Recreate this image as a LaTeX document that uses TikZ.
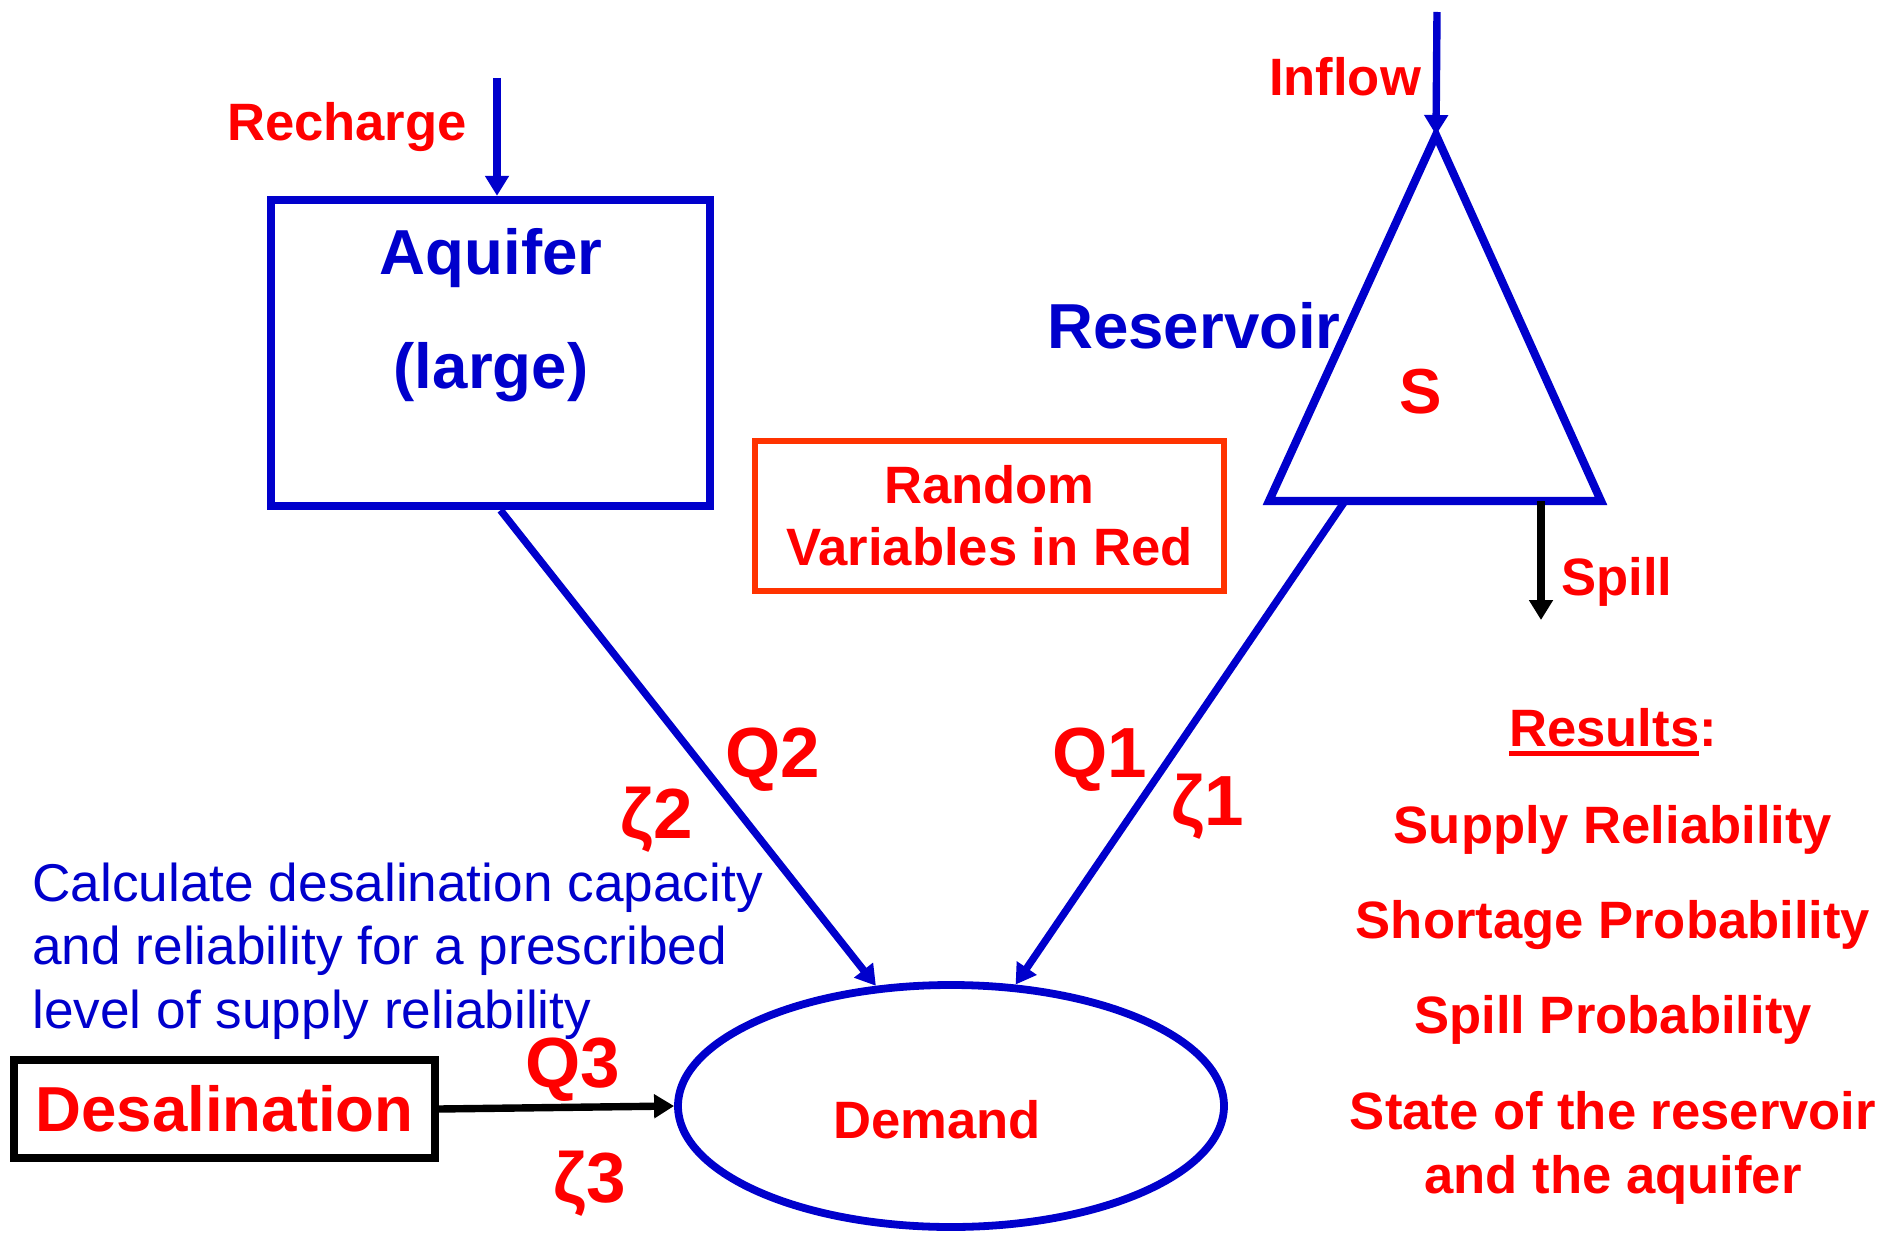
\documentclass[tikz,border=0pt]{standalone}
\usepackage{fontspec}
\setmainfont{Liberation Sans}
\usetikzlibrary{arrows.meta,shapes.geometric,calc}
\definecolor{dblue}{RGB}{0,0,204}
\definecolor{rred}{RGB}{255,0,0}
\definecolor{ored}{RGB}{255,51,0}
\newcommand\fsz[1]{\fontsize{#1}{#1}\selectfont}
\newcommand\ulbox[1]{\setbox0=\hbox{#1}\rlap{\rule[-5pt]{\wd0}{2.3pt}}\box0}
\begin{document}
\begin{tikzpicture}[x=0.5pt,y=-0.5pt,
  lbl/.style={inner sep=0pt, anchor=base, font=\bfseries\fsz{26.3pt}, text=rred},
  big/.style={inner sep=0pt, anchor=base, font=\bfseries\fsz{31.8pt}},
  qlbl/.style={inner sep=0pt, anchor=base, font=\bfseries\fsz{35.5pt}, text=rred},
  note/.style={inner sep=0pt, anchor=base west, font=\fsz{26.6pt}, text=dblue},
  tip/.style={-{Triangle[length=10pt,width=11.5pt]}},
  flow/.style={draw=dblue, line width=3.7pt, tip},
  blackflow/.style={draw=black, line width=3.7pt, tip}
]
\useasboundingbox (0,0) rectangle (1888,1240);

% Aquifer
\node[draw=dblue, line width=4.2pt, minimum width=219.5pt, minimum height=153pt, inner sep=0pt] (aquifer) at (490.5,353) {};
\node[big, text=dblue] (aqt1) at (491,274.5) {Aquifer};
\node[big, text=dblue] (aqt2) at (491,389) {(large)};
\coordinate (rechTop) at (497,78);
\node[lbl] (recharge) at (347,141) {Recharge};
\draw[flow] (rechTop) -- (rechTop |- aquifer.north);

% Reservoir
\coordinate (rtop) at (1436,135);
\coordinate (rbl) at (1269,501);
\coordinate (rbr) at (1601,501);
\draw[dblue, line width=4.1pt] (rtop) -- (rbr) -- (rbl) -- cycle;
\node[big, text=dblue] (restxt) at (1194,349) {Reservoir};
\node[big, text=rred] (stxt) at (1421,414) {S};
\coordinate (inflowTop) at (1437,12);
\node[lbl] (inflow) at (1345,96) {Inflow};
\draw[flow] (inflowTop) -- (rtop);
\coordinate (spillEnd) at (1541,620);
\draw[blackflow] (spillEnd |- rbl) -- (spillEnd);
\node[lbl] (spill) at (1617,595) {Spill};

% Random variables box
\node[draw=ored, line width=3pt, minimum width=234.5pt, minimum height=75pt, inner sep=0pt,
      align=center, font=\bfseries\fontsize{26.3pt}{31pt}\selectfont, text=rred] (random) at (989.5,516)
      {Random\\Variables in Red};

% Demand
\node[ellipse, draw=dblue, line width=3.9pt, minimum width=273pt, minimum height=121pt, inner sep=0pt] (demand) at (951,1106) {};
\node[lbl] (demtxt) at (937,1138) {Demand};

% Desalination
\node[draw=black, line width=4pt, minimum width=210.5pt, minimum height=49pt, inner sep=0pt,
      font=\bfseries\fsz{31.8pt}, text=rred] (desal) at (224.5,1109) {Desalination};

% Connectors
\draw[flow] ([xshift=5pt]aquifer.south) -- (demand.122);
\draw[flow] ($(rbl)!0.229!(rbr)$) -- (demand.62);
\draw[blackflow] (desal.east) -- (demand.west);

% Flow labels
\node[qlbl] (q2) at (773,777) {Q2};
\node[qlbl] (z2) at (657,838) {ζ2};
\node[qlbl] (q1) at (1100,777) {Q1};
\node[qlbl] (z1) at (1208,825) {ζ1};
\node[qlbl] (q3) at (573,1087) {Q3};
\node[qlbl] (z3) at (590,1202) {ζ3};

% Note
\node[note] (n1) at (32,901) {Calculate desalination capacity};
\node[note] (n2) at (32,964) {and reliability for a prescribed};
\node[note] (n3) at (32,1028) {level of supply reliability};

% Results
\node[lbl] (results) at (1613,746) {\ulbox{Results}:};
\node[lbl] (r1) at (1613,843) {Supply Reliability};
\node[lbl] (r2) at (1613,938) {Shortage Probability};
\node[lbl] (r3) at (1613,1033) {Spill Probability};
\node[lbl] (r4) at (1613,1129) {State of the reservoir};
\node[lbl] (r5) at (1613,1193) {and the aquifer};
\end{tikzpicture}
\end{document}
